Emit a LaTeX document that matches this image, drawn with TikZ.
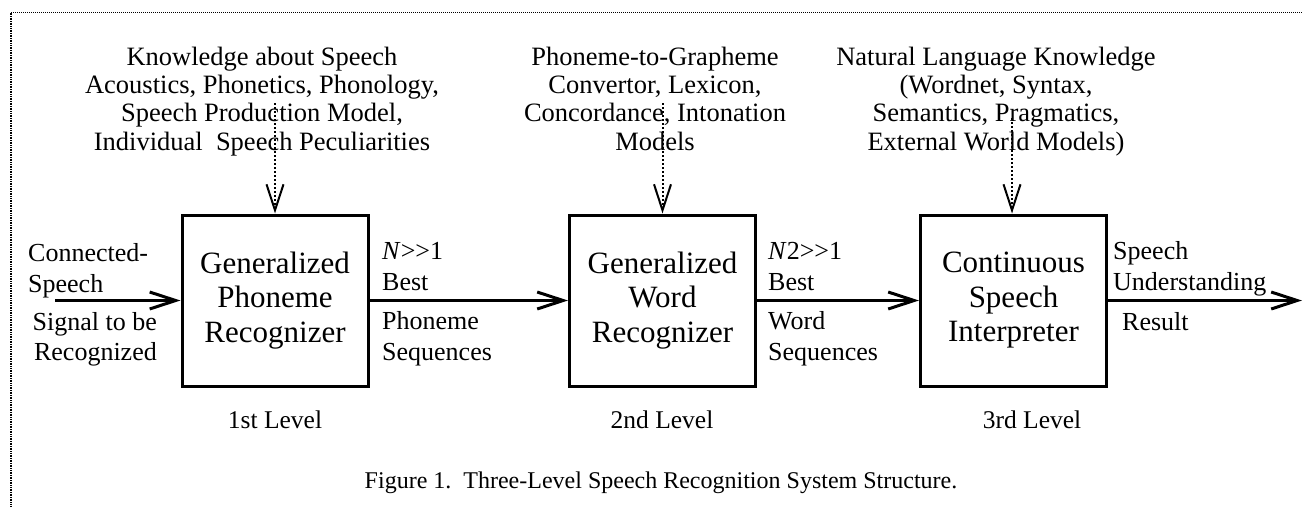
\documentclass[tikz,border=0pt]{standalone}
\usepackage{fontspec}
\setmainfont{Liberation Serif}
\usetikzlibrary{arrows.meta}
\begin{document}
\begin{tikzpicture}[x=1pt,y=-1pt,
  box/.style={draw, line width=3pt, minimum width=186pt, minimum height=171pt, inner sep=0pt, align=center, font=\fontsize{31}{34.5}\selectfont},
  know/.style={align=center, inner sep=0pt, anchor=base, font=\fontsize{26.5}{28.3}\selectfont},
  side/.style={align=left, inner sep=0pt, anchor=base west, font=\fontsize{26}{31}\selectfont},
  sider/.style={align=right, inner sep=0pt, anchor=base east, font=\fontsize{26}{30}\selectfont},
  lvl/.style={inner sep=0pt, anchor=base, font=\fontsize{25.5}{30}\selectfont},
  captiontext/.style={inner sep=0pt, anchor=base, font=\fontsize{24}{28}\selectfont},
  flow/.style={line width=3pt, -{Straight Barb[length=26pt,width=17pt]}},
  feed/.style={line width=2pt, dash pattern=on 2pt off 2pt, -{Straight Barb[length=26pt,width=17pt,line width=2pt]}},
  framelineh/.style={line width=1.3pt, dash pattern=on 1pt off 1pt},
  framelinev/.style={line width=2.2pt, dash pattern=on 1pt off 0.7pt}
]
\useasboundingbox (0,0) rectangle (1303,507);
% frame
\coordinate (fc) at (11,12.5);
\coordinate (fr) at (1303,12.5);
\coordinate (fb) at (11,507);
\draw[framelineh] (fc) -- (fr);
\draw[framelinev] (fc) -- (fb);

% knowledge sources (anchor = baseline of last line)
\node[know] (k1) at (262,150) {Knowledge about Speech\\Acoustics, Phonetics, Phonology,\\Speech Production Model,\\Individual\ \ Speech Peculiarities};
\node[know] (k2) at (655,150) {Phoneme-to-Grapheme\\Convertor, Lexicon,\\Concordance, Intonation\\Models};
\node[know] (k3) at (996,150) {Natural Language Knowledge\\(Wordnet, Syntax,\\Semantics, Pragmatics,\\External World Models)};

% boxes
\node[box] (b1) at (275,300.5) {Generalized\\Phoneme\\Recognizer};
\node[box] (b2) at (662.5,300.5) {Generalized\\Word\\Recognizer};
\node[box] (b3) at (1013.5,300.5) {Continuous\\Speech\\Interpreter};

% flow
\coordinate (in) at (55,300.5);
\coordinate (out) at (1302,300.5);
\draw[flow] (in) -- (b1.west);
\draw[flow] (b1.east) -- (b2.west);
\draw[flow] (b2.east) -- (b3.west);
\draw[flow] (b3.east) -- (out);

% feeds
\coordinate (f1) at (275,103);
\coordinate (f2) at (662.5,103);
\coordinate (f3) at (1012,118);
\draw[feed] (f1) -- (b1.north);
\draw[feed] (f2) -- (b2.north);
\draw[feed] (f3) -- (f3 |- b3.north);

% side labels (anchor = baseline of last line)
\node[side] (l1) at (28,292) {Connected-\\Speech};
\node[sider] (l2) at (157,360) {Signal to be\\Recognized};
\node[side] (l3) at (382,290) {\textit{N}>\kern0pt>1\\Best};
\node[side] (l4) at (382,360) {Phoneme\\Sequences};
\node[side] (l5) at (768,290) {\textit{N}2>\kern0pt>1\\Best};
\node[side] (l6) at (768,360) {Word\\Sequences};
\node[side] (l7) at (1113,290) {Speech\\Understanding};
\node[side] (l8) at (1122,330) {Result};

% levels
\node[lvl] (v1) at (275,428) {1st Level};
\node[lvl] (v2) at (662,428) {2nd Level};
\node[lvl] (v3) at (1032,428) {3rd Level};

% caption
\node[captiontext] (c) at (661,488) {Figure 1.\ \ Three-Level Speech Recognition System Structure.};
\end{tikzpicture}
\end{document}
